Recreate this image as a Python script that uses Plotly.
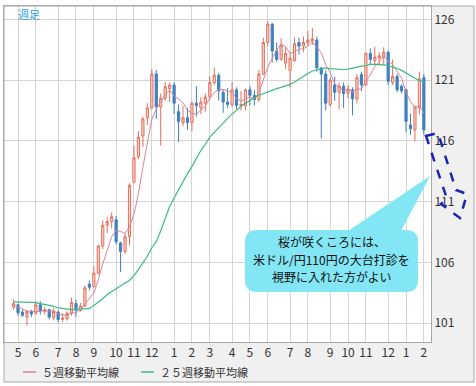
import pandas as pd
import plotly.graph_objects as go

# ---------------- data (weekly USD/JPY) ----------------
week_start = "2014-04-28"
n_weeks = 93
opens = [102.3, 102.5, 101.9, 101.5, 101.95, 101.8, 102.5, 101.95, 102.1, 101.45,
         101.9, 101.3, 101.35, 101.8, 102.6, 102.05, 102.4, 104.2, 104.0, 105.1,
         107.35, 109.05, 109.35, 109.5, 107.6, 106.9, 108.1, 112.6, 114.7, 116.4,
         117.9, 118.7, 121.5, 118.8, 119.5, 120.3, 120.6, 118.4, 117.5, 117.9,
         117.5, 119.1, 118.7, 119.1, 119.6, 120.8, 121.4, 120.0, 119.2, 119.0,
         120.2, 118.9, 118.9, 120.2, 119.75, 119.4, 121.5, 124.1, 125.6, 123.4,
         122.7, 122.4, 121.8, 122.6, 124.1, 123.8, 124.1, 124.2, 124.3, 122.0,
         121.5, 119.0, 120.6, 120.0, 120.5, 119.9, 120.2, 119.45, 121.45, 120.6,
         123.2, 122.6, 122.8, 122.9, 123.3, 120.8, 121.3, 120.5, 120.2, 117.3,
         116.9, 118.7, 121.2]
highs = [102.95, 102.6, 102.1, 102.0, 102.1, 102.8, 102.8, 102.35, 102.2, 102.25,
         102.05, 101.8, 101.95, 103.1, 102.9, 102.65, 104.1, 104.5, 105.7, 107.4,
         109.45, 109.75, 110.1, 109.8, 107.7, 108.4, 112.5, 115.6, 116.8, 118.0,
         119.1, 121.85, 121.85, 119.9, 120.85, 120.8, 120.8, 119.0, 118.9, 118.7,
         119.2, 120.5, 119.6, 119.9, 121.3, 122.05, 121.6, 120.2, 120.35, 120.85,
         120.4, 120.1, 120.3, 120.5, 120.2, 121.8, 124.5, 125.85, 125.7, 124.1,
         124.45, 123.7, 123.2, 124.5, 124.5, 124.6, 125.05, 125.3, 124.6, 122.1,
         121.8, 121.2, 121.3, 120.8, 120.8, 120.6, 120.4, 121.5, 121.7, 123.3,
         123.6, 123.75, 123.3, 123.7, 123.4, 122.7, 121.5, 120.65, 120.3, 118.25,
         118.9, 121.7, 121.5]
lows = [102.1, 101.6, 101.5, 100.8, 101.5, 101.7, 101.7, 101.7, 101.3, 101.2,
        101.05, 101.1, 101.2, 101.6, 101.5, 101.95, 102.3, 103.7, 103.95, 105.0,
        107.1, 108.4, 108.8, 107.5, 105.2, 106.7, 107.4, 112.5, 114.5, 115.5,
        117.3, 118.6, 117.8, 115.6, 119.3, 119.2, 118.2, 115.9, 117.2, 116.9,
        116.8, 118.0, 118.2, 118.4, 119.4, 120.6, 119.3, 118.3, 118.7, 118.8,
        118.6, 118.5, 118.5, 118.9, 118.9, 119.2, 121.4, 123.8, 122.45, 122.5,
        122.6, 121.9, 120.4, 122.5, 123.1, 123.3, 123.8, 123.9, 121.7, 116.2,
        118.5, 118.8, 119.3, 118.6, 118.7, 119.5, 118.1, 119.1, 120.1, 120.5,
        122.3, 122.2, 122.2, 122.2, 120.6, 120.6, 120.0, 119.9, 116.7, 116.5,
        115.95, 118.2, 116.5]
closes = [102.6, 101.85, 101.65, 101.95, 101.75, 102.5, 102.0, 102.1, 101.5, 101.95,
          101.3, 101.4, 101.8, 102.7, 102.05, 102.4, 103.9, 103.95, 105.1, 107.35,
          109.05, 109.35, 109.75, 107.7, 106.9, 108.1, 112.35, 114.6, 116.3, 117.8,
          118.7, 121.5, 118.8, 119.5, 120.45, 120.6, 119.1, 117.6, 117.9, 117.5,
          119.1, 118.9, 119.2, 119.6, 120.8, 121.4, 120.1, 119.2, 119.0, 120.2,
          118.9, 119.0, 120.2, 119.75, 119.4, 121.5, 124.1, 125.6, 123.4, 122.7,
          123.9, 123.2, 122.8, 124.0, 123.8, 124.1, 124.3, 124.4, 122.0, 121.5,
          119.1, 121.0, 120.0, 120.5, 119.9, 120.2, 119.45, 121.2, 120.6, 123.2,
          122.7, 122.9, 123.0, 123.3, 120.9, 121.3, 120.2, 120.1, 117.6, 117.0,
          118.8, 121.1, 116.9]
ma5 = [102.5, 102.3, 102.15, 102.0, 101.96, 101.94, 101.97, 102.06, 101.97, 102.01,
       101.77, 101.65, 101.59, 101.83, 101.85, 102.07, 102.57, 103.0, 103.48, 104.54,
       105.87, 106.96, 108.12, 108.64, 108.55, 108.36, 108.96, 109.93, 111.65, 113.83,
       115.95, 117.78, 118.62, 119.26, 119.79, 120.17, 119.69, 119.45, 119.13, 118.54,
       118.24, 118.2, 118.52, 118.86, 119.52, 119.98, 120.22, 120.22, 120.1, 119.98,
       119.48, 119.26, 119.46, 119.61, 119.45, 119.97, 120.99, 122.07, 122.8, 123.46,
       123.94, 123.76, 123.2, 123.32, 123.54, 123.58, 123.8, 124.12, 123.72, 123.26,
       122.26, 121.6, 120.72, 120.42, 120.1, 120.32, 120.01, 120.25, 120.27, 120.93,
       121.43, 122.12, 122.48, 123.02, 122.56, 122.28, 121.74, 121.16, 120.02, 119.24,
       118.74, 118.92, 118.28]
ma25 = [102.75, 102.75, 102.72, 102.7, 102.7, 102.68, 102.62, 102.55, 102.48, 102.38,
        102.25, 102.18, 102.12, 102.1, 102.1, 102.12, 102.15, 102.2, 102.45, 102.7,
        103.0, 103.35, 103.6, 103.85, 104.05, 104.3, 104.5, 104.9, 105.4, 105.9,
        106.5, 107.2, 107.7, 108.6, 109.6, 110.6, 111.3, 112.0, 112.6, 113.3,
        113.9, 114.6, 115.2, 115.7, 116.3, 116.7, 117.1, 117.5, 117.85, 118.2,
        118.55, 118.85, 119.1, 119.35, 119.55, 119.75, 119.9, 120.05, 120.2, 120.3,
        120.4, 120.5, 120.65, 120.85, 121.1, 121.35, 121.55, 121.75, 121.85, 121.95,
        122.0, 121.95, 121.9, 121.85, 121.85, 121.9, 122.0, 122.05, 122.15, 122.2,
        122.3, 122.3, 122.3, 122.25, 122.2, 122.1, 121.95, 121.8, 121.6, 121.4,
        121.15, 120.95, 120.85]
month_labels = ["5", "6", "7", "8", "9", "10", "11", "12", "1", "2", "3",
                "4", "5", "6", "7", "8", "9", "10", "11", "12", "1", "2"]
y_ticks = [101, 106, 111, 116, 121, 126]
legend_names = ["５週移動平均線", "２５週移動平均線"]
callout_lines = ["桜が咲くころには、", "米ドル/円110円の大台打診を", "視野に入れた方がよい"]
period_label = "週足"

# ---------------- build ----------------
weeks = pd.date_range(week_start, periods=n_weeks, freq="7D")
first_weeks = []
seen = set()
for d in weeks:
    key = (d.year, d.month)
    if key not in seen:
        seen.add(key)
        first_weeks.append(d)
first_weeks = first_weeks[1:]  # the April stub week carries no label

W, H = 476, 386
L, R, T, B = 4, 45, 6, 44
PW, PH = W - L - R, H - T - B
FONT = "Noto Sans CJK JP"

def px(x):
    return (x - L) / PW

def py(y):
    return (H - B - y) / PH

def pt(x, y):
    return f"{px(x):.5f},{py(y):.5f}"

UP_LINE = "#e2705e"
UP_FILL = "#fad3ca"
DN = "#3f80c0"
MA5_C = "#d98597"
MA25_C = "#3dbb82"

fig = go.Figure()
fig.add_trace(go.Candlestick(
    x=weeks, open=opens, high=highs, low=lows, close=closes,
    increasing=dict(line=dict(color=UP_LINE, width=1), fillcolor=UP_FILL),
    decreasing=dict(line=dict(color=DN, width=1), fillcolor=DN),
    whiskerwidth=0, showlegend=False, hoverinfo="skip", name="USD/JPY"))
fig.add_trace(go.Scatter(x=weeks, y=ma5, mode="lines", name=legend_names[0],
                         line=dict(color=MA5_C, width=1), showlegend=False,
                         hoverinfo="skip"))
fig.add_trace(go.Scatter(x=weeks, y=ma25, mode="lines", name=legend_names[1],
                         line=dict(color=MA25_C, width=1.2), showlegend=False,
                         hoverinfo="skip"))

t0 = weeks[0]
x_range = [t0 + pd.Timedelta(days=7 * -2.14), t0 + pd.Timedelta(days=7 * 93.6)]

shapes = [
    dict(type="rect", xref="paper", yref="paper", x0=px(431), x1=px(474),
         y0=py(382), y1=py(6), fillcolor="#f0f0f0", line_width=0, layer="below"),
    dict(type="rect", xref="paper", yref="paper", x0=px(4), x1=px(431),
         y0=py(382), y1=py(342), fillcolor="#f0f0f0", line_width=0, layer="below"),
    dict(type="rect", xref="paper", yref="paper", x0=px(4), x1=px(474),
         y0=py(382), y1=py(6), line=dict(color="#a8a8a8", width=1), layer="above"),
    dict(type="line", xref="paper", yref="paper", x0=px(23), x1=px(36),
         y0=py(372), y1=py(372), line=dict(color=MA5_C, width=1.5)),
    dict(type="line", xref="paper", yref="paper", x0=px(141), x1=px(154),
         y0=py(372), y1=py(372), line=dict(color=MA25_C, width=1.5)),
]

x0b, x1b, y0b, y1b, r = 245, 418, 230, 292, 12
bubble = (f"M {pt(x0b + r, y0b)} L {pt(x1b - r, y0b)} Q {pt(x1b, y0b)} {pt(x1b, y0b + r)} "
          f"L {pt(x1b, y1b - r)} Q {pt(x1b, y1b)} {pt(x1b - r, y1b)} "
          f"L {pt(x0b + r, y1b)} Q {pt(x0b, y1b)} {pt(x0b, y1b - r)} "
          f"L {pt(x0b, y0b + r)} Q {pt(x0b, y0b)} {pt(x0b + r, y0b)} Z")
shapes.append(dict(type="path", xref="paper", yref="paper", path=bubble,
                   fillcolor="#82e6f4", line_width=0, layer="above"))
pointer = f"M {pt(345, 233)} L {pt(430, 176)} L {pt(400, 233)} Z"
shapes.append(dict(type="path", xref="paper", yref="paper", path=pointer,
                   fillcolor="#82e6f4", line_width=0, layer="above"))

arrow_pts = [(426, 136), (438, 133), (456, 190), (467, 194), (460, 218),
             (441, 204), (447, 199)]
arrow = "M " + " L ".join(pt(a, b) for a, b in arrow_pts) + " Z"
shapes.append(dict(type="path", xref="paper", yref="paper", path=arrow,
                   line=dict(color="#1c24b4", width=2.5, dash="dash"),
                   fillcolor="rgba(0,0,0,0)", layer="above"))

annotations = []
for k, line in enumerate(callout_lines):
    annotations.append(dict(text=line, xref="paper", yref="paper", x=px(331.5),
                            y=py(242 + 17.4 * k), showarrow=False,
                            xanchor="center", yanchor="middle",
                            font=dict(family=FONT, size=12, color="#111")))
annotations += [
    dict(text=period_label, xref="paper", yref="paper", x=px(16), y=py(14),
         showarrow=False, xanchor="left", yanchor="middle",
         font=dict(family=FONT, size=11, color="#2aa0e0")),
    dict(text=legend_names[0], xref="paper", yref="paper", x=px(40), y=py(372),
         showarrow=False, xanchor="left", yanchor="middle",
         font=dict(family=FONT, size=11, color="#333")),
    dict(text=legend_names[1], xref="paper", yref="paper", x=px(158), y=py(372),
         showarrow=False, xanchor="left", yanchor="middle",
         font=dict(family=FONT, size=11, color="#333")),
]

fig.update_layout(
    width=W, height=H, margin=dict(l=L, r=R, t=T, b=B, autoexpand=False),
    paper_bgcolor="white", plot_bgcolor="white", showlegend=False,
    font=dict(family=FONT, size=12, color="#333"),
    shapes=shapes, annotations=annotations,
    xaxis=dict(type="date", range=x_range, tickvals=first_weeks, ticktext=month_labels,
               showgrid=True, gridcolor="#d4d4d4", gridwidth=1, zeroline=False,
               showline=True, linecolor="#a8a8a8", mirror=True, ticks="",
               rangeslider=dict(visible=False), tickfont=dict(size=12, color="#333")),
    yaxis=dict(range=[99.44, 127.1], side="right", tickvals=y_ticks,
               showgrid=True, gridcolor="#d4d4d4", gridwidth=1, zeroline=False,
               showline=True, linecolor="#a8a8a8", mirror=True, ticks="",
               tickfont=dict(size=12, color="#333")),
)

fig.write_html("out.html",
               config={"displayModeBar": False, "staticPlot": True},
               post_script="document.body.style.margin='0px';"
                           "document.body.style.overflow='hidden';")
